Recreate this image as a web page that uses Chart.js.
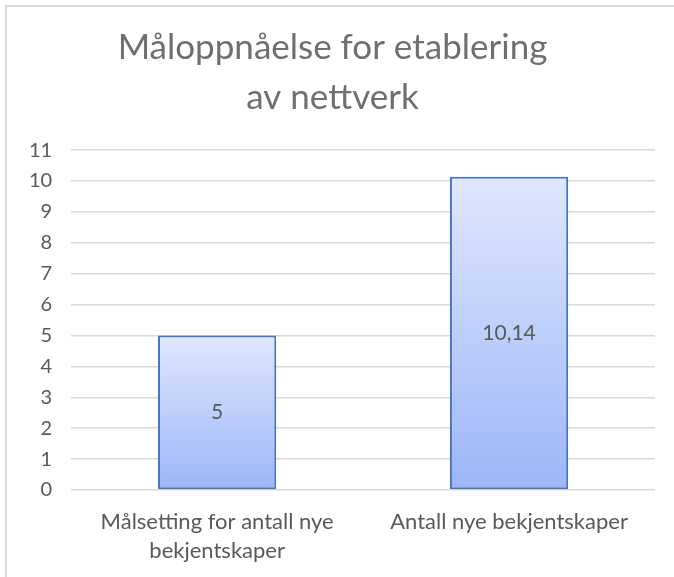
<!DOCTYPE html>
<html>
<head>
<meta charset="utf-8">
<script src="https://cdn.jsdelivr.net/npm/chart.js@4.4.1/dist/chart.umd.min.js"></script>
<style>
    body { margin: 0; background: #fff; overflow: hidden; }
    #frame { position: absolute; left: 5px; top: 5px; width: 720px; height: 620px; border: 2px solid #d9d9d9; }
    #wrap { position: absolute; left: 0; top: 0; width: 674px; height: 577px; }
</style>
</head>
<body>
<div id="frame"></div>
<div id="wrap"><canvas id="goalChart" width="674" height="577"></canvas></div>
<script>
// data
const categories = [["Målsetting for antall nye", "bekjentskaper"], "Antall nye bekjentskaper"];
const values = [5, 10.14];
const titleLines = ["Måloppnåelse for etablering", "av nettverk"];
const yMin = 0;
const yMax = 11;

const FONT = "Lato, 'Open Sans', sans-serif";
const TEXT_GREY = '#595959';

// gradient per bar, light on top, darker at the bottom
function barGradient(context) {
    let chart = context.chart;
    let area = chart.chartArea;
    if (!area || !chart.scales.y) return '#bccdfa';
    let yScale = chart.scales.y;
    let top = yScale.getPixelForValue(values[context.dataIndex]);
    let bottom = yScale.getPixelForValue(0);
    let grad = chart.ctx.createLinearGradient(0, top, 0, bottom);
    grad.addColorStop(0, '#dfe7fd');
    grad.addColorStop(1, '#9db6f9');
    return grad;
}

// labels written in the middle of each bar
const insideLabels = {
    id: 'insideLabels',
    afterDatasetsDraw(chart) {
        let ctx = chart.ctx;
        let meta = chart.getDatasetMeta(0);
        ctx.save();
        ctx.font = "21px " + FONT;
        ctx.fillStyle = TEXT_GREY;
        ctx.textAlign = 'center';
        ctx.textBaseline = 'middle';
        meta.data.forEach((bar, i) => {
            let text = String(values[i]).replace('.', ',');
            ctx.fillText(text, bar.x, (bar.y + bar.base) / 2);
        });
        ctx.restore();
    }
};

let chart = new Chart(document.querySelector('#goalChart'), {
    type: 'bar',
    data: {
        labels: categories,
        datasets: [{
            data: values,
            backgroundColor: barGradient,
            borderColor: '#4472c4',
            borderWidth: 2,
            borderSkipped: false,
            categoryPercentage: 1,
            barPercentage: 0.405
        }]
    },
    options: {
        responsive: false,
        animation: false,
        layout: { padding: { left: 10, right: 19, top: 23, bottom: 0 } },
        plugins: {
            legend: { display: false },
            tooltip: { enabled: false },
            title: {
                display: true,
                text: titleLines,
                color: '#6f6f6f',
                font: { family: FONT, size: 35, weight: 'normal', lineHeight: 1.43 },
                padding: { top: 0, bottom: 27 }
            }
        },
        scales: {
            x: {
                grid: { display: false, drawTicks: false },
                border: { display: false },
                ticks: {
                    color: TEXT_GREY,
                    font: { family: FONT, size: 22, lineHeight: 1.3 },
                    padding: 18,
                    maxRotation: 0
                },
                afterFit: (scale) => { scale.height = 87; }
            },
            y: {
                min: yMin,
                max: yMax,
                grid: { color: '#d9d9d9', lineWidth: 1.5, drawTicks: false },
                border: { display: false },
                ticks: {
                    stepSize: 1,
                    color: TEXT_GREY,
                    font: { family: FONT, size: 20 },
                    padding: 19
                }
            }
        }
    },
    plugins: [insideLabels]
});
</script>
</body>
</html>
